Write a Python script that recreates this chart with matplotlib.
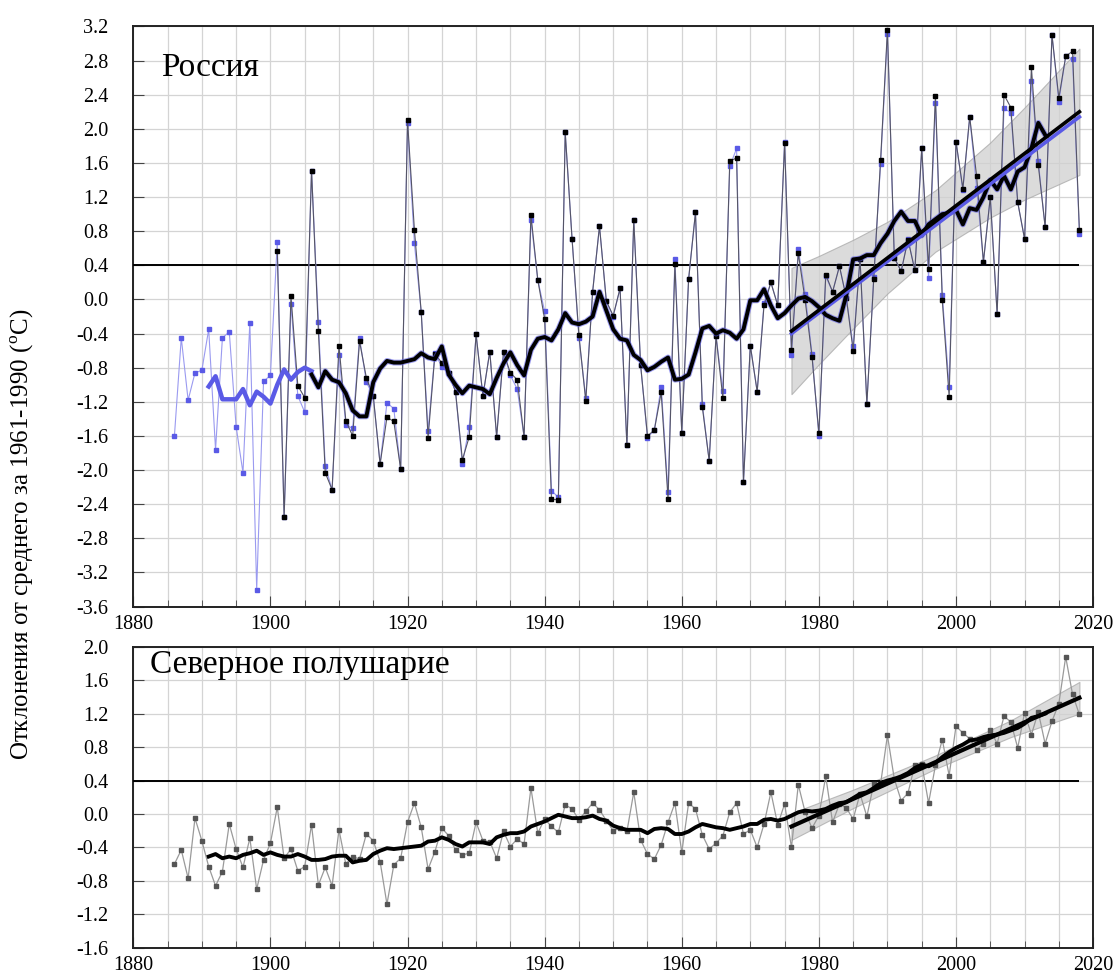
import numpy as np
import matplotlib
matplotlib.use("Agg")
import matplotlib.pyplot as plt
from matplotlib.ticker import MultipleLocator, FormatStrFormatter

plt.rcParams["font.family"] = ["Liberation Serif", "DejaVu Serif"]
plt.rcParams["mathtext.fontset"] = "custom"
plt.rcParams["mathtext.rm"] = "Liberation Serif"
plt.rcParams["axes.unicode_minus"] = False

# ---- Russia: annual anomalies ----
rus_years_blue = np.arange(1886, 2019)
rus_blue = [
    -1.60, -0.45, -1.18, -0.86, -0.83, -0.35, -1.76, -0.45, -0.38, -1.49,
    -2.03, -0.27, -3.40, -0.96, -0.89,
    0.67, -2.55, -0.05, -1.13, -1.32, 1.51, -0.26, -1.95, -2.23, -0.65,
    -1.47, -1.51, -0.45, -0.97, -1.13, -1.93, -1.21, -1.28, -1.99, 2.07,
    0.66, -0.15, -1.54, -0.63, -0.79, -0.86, -1.08, -1.93, -1.49, -0.41,
    -1.13, -0.61, -1.61, -0.62, -0.89, -1.05, -1.61, 0.93, 0.23, -0.14,
    -2.24, -2.32, 1.96, 0.71, -0.45, -1.15, 0.09, 0.86, -0.02, -0.20,
    0.13, -1.71, 0.93, -0.77, -1.62, -1.53, -1.02, -2.26, 0.48, -1.56,
    0.24, 1.02, -1.23, -1.89, -0.43, -1.07, 1.56, 1.77, -2.14, -0.54,
    -1.08, -0.04, 0.20, -0.07, 1.85, -0.65, 0.59, 0.07, -0.64, -1.60,
    0.27, 0.09, 0.39, 0.02, -0.55, 0.48, -1.22, 0.26, 1.59, 3.11,
    0.49, 0.33, 0.71, 0.34, 1.77, 0.25, 2.30, 0.05, -1.02, 1.85,
    1.28, 2.14, 1.31, 0.44, 1.20, -0.17, 2.24, 2.19, 1.14, 0.71,
    2.56, 1.62, 0.85, 3.10, 2.32, 2.85, 2.82, 0.77,
]
rus_years_black = np.arange(1901, 2019)
rus_black = [
    0.57, -2.55, 0.04, -1.01, -1.15, 1.51, -0.37, -2.03, -2.23, -0.54,
    -1.42, -1.60, -0.49, -0.92, -1.13, -1.93, -1.38, -1.43, -1.99, 2.10,
    0.82, -0.15, -1.62, -0.64, -0.74, -0.86, -1.08, -1.88, -1.61, -0.41,
    -1.13, -0.61, -1.61, -0.62, -0.86, -0.94, -1.61, 0.99, 0.23, -0.23,
    -2.34, -2.35, 1.96, 0.71, -0.42, -1.19, 0.09, 0.86, -0.02, -0.19,
    0.13, -1.71, 0.93, -0.77, -1.60, -1.53, -1.09, -2.34, 0.41, -1.56,
    0.24, 1.02, -1.26, -1.89, -0.43, -1.16, 1.62, 1.66, -2.14, -0.54,
    -1.08, -0.07, 0.20, -0.07, 1.83, -0.59, 0.54, -0.01, -0.67, -1.57,
    0.29, 0.09, 0.39, 0.02, -0.60, 0.48, -1.22, 0.24, 1.63, 3.16,
    0.49, 0.33, 0.70, 0.34, 1.77, 0.36, 2.39, -0.01, -1.14, 1.85,
    1.30, 2.14, 1.45, 0.44, 1.20, -0.17, 2.40, 2.25, 1.14, 0.71,
    2.72, 1.58, 0.85, 3.10, 2.36, 2.85, 2.91, 0.81,
]

# smoothed curves
rus_ma_blue_years = np.arange(1891, 1907)
rus_ma_blue = [-1.02, -0.90, -1.17, -1.17, -1.17, -1.05, -1.24, -1.08,
               -1.14, -1.22, -1.00, -0.82, -0.94, -0.85, -0.80, -0.84]
rus_ma_years = np.arange(1906, 2014)
rus_ma = [
    -0.88, -1.03, -0.84, -0.94, -0.97, -1.10, -1.30, -1.37, -1.37, -0.97,
    -0.81, -0.72, -0.74, -0.74, -0.72, -0.70, -0.63, -0.68, -0.70, -0.55,
    -0.88, -1.00, -1.10, -1.01, -1.03, -1.05, -1.11, -0.92, -0.75, -0.62,
    -0.77, -0.89, -0.59, -0.46, -0.44, -0.48, -0.35, -0.16, -0.27, -0.29,
    -0.26, -0.20, 0.09, -0.13, -0.35, -0.46, -0.48, -0.65, -0.71, -0.83,
    -0.79, -0.73, -0.68, -0.94, -0.93, -0.88, -0.62, -0.34, -0.31, -0.40,
    -0.36, -0.39, -0.46, -0.35, -0.01, -0.01, 0.12, -0.07, -0.22, -0.16,
    -0.07, 0.01, 0.03, -0.02, -0.09, -0.18, -0.22, -0.25, 0.05, 0.47,
    0.48, 0.52, 0.52, 0.66, 0.77, 0.92, 1.03, 0.92, 0.92, 0.75,
    0.88, 0.94, 1.00, 1.01, 1.05, 0.88, 1.07, 1.05, 1.20, 1.40,
    1.29, 1.45, 1.29, 1.50, 1.55, 1.77, 2.07, 1.93,
]
rus_trend_years = [1976, 2018]
rus_trend_black = [-0.37, 2.20]
rus_trend_blue = [-0.40, 2.14]
rus_band_years = [1976, 1980, 1985, 1990, 1997, 2005, 2010, 2018]
rus_band_low = [-1.11, -0.76, -0.34, 0.07, 0.56, 0.96, 1.17, 1.46]
rus_band_high = [0.37, 0.51, 0.70, 0.91, 1.28, 1.84, 2.25, 2.94]

# ---- Northern Hemisphere ----
nh_years = np.arange(1886, 2019)
nh = [
    -0.60, -0.43, -0.77, -0.05, -0.32, -0.63, -0.86, -0.69, -0.12, -0.42,
    -0.64, -0.29, -0.90, -0.55, -0.35, 0.08, -0.53, -0.42, -0.68, -0.63,
    -0.13, -0.85, -0.64, -0.86, -0.19, -0.60, -0.51, -0.54, -0.24, -0.32,
    -0.57, -1.08, -0.61, -0.53, -0.10, 0.13, -0.16, -0.66, -0.45, -0.17,
    -0.26, -0.43, -0.49, -0.47, -0.10, -0.32, -0.33, -0.53, -0.21, -0.39,
    -0.30, -0.36, 0.31, -0.23, -0.06, -0.15, -0.22, 0.11, 0.06, -0.07,
    0.03, 0.13, 0.05, -0.08, -0.20, -0.17, -0.21, 0.26, -0.31, -0.48,
    -0.54, -0.37, -0.10, 0.13, -0.46, 0.13, 0.06, -0.25, -0.42, -0.35,
    -0.26, 0.02, 0.13, -0.24, -0.19, -0.40, -0.12, 0.26, -0.13, 0.12,
    -0.40, 0.35, 0.02, -0.17, -0.02, 0.45, -0.10, 0.12, 0.07, -0.06,
    0.24, -0.03, 0.36, 0.36, 0.94, 0.42, 0.16, 0.25, 0.59, 0.60,
    0.13, 0.58, 0.89, 0.46, 1.05, 0.97, 0.90, 0.77, 0.84, 1.01,
    0.84, 1.17, 1.10, 0.79, 1.21, 0.95, 1.22, 0.84, 1.11, 1.32,
    1.88, 1.43, 1.19,
]
nh_ma_years = np.arange(1891, 2014)
nh_ma = [
    -0.51, -0.48, -0.53, -0.51, -0.53, -0.49, -0.47, -0.44, -0.49, -0.46,
    -0.49, -0.51, -0.51, -0.48, -0.51, -0.55, -0.55, -0.54, -0.51, -0.50,
    -0.50, -0.58, -0.56, -0.55, -0.48, -0.44, -0.41, -0.42, -0.41, -0.40,
    -0.39, -0.38, -0.33, -0.32, -0.28, -0.31, -0.36, -0.39, -0.34, -0.34,
    -0.34, -0.36, -0.28, -0.25, -0.23, -0.23, -0.21, -0.15, -0.12, -0.09,
    -0.05, -0.01, -0.03, -0.05, -0.05, -0.04, -0.02, -0.06, -0.08, -0.14,
    -0.17, -0.19, -0.19, -0.19, -0.23, -0.18, -0.17, -0.18, -0.24, -0.24,
    -0.21, -0.16, -0.12, -0.14, -0.16, -0.17, -0.19, -0.17, -0.15, -0.12,
    -0.12, -0.07, -0.06, -0.08, -0.06, -0.02, 0.02, 0.04, 0.03, 0.04,
    0.06, 0.10, 0.13, 0.14, 0.19, 0.24, 0.26, 0.31, 0.37, 0.40,
    0.42, 0.45, 0.49, 0.55, 0.59, 0.57, 0.61, 0.68, 0.74, 0.79,
    0.83, 0.88, 0.89, 0.92, 0.94, 0.95, 0.97, 1.00, 1.03, 1.08,
    1.15, 1.17, 1.20,
]
nh_trend_years = [1976, 2018]
nh_trend = [-0.15, 1.39]
nh_band_years = [1976, 1985, 1997, 2008, 2018]
nh_band_low = [-0.31, 0.07, 0.54, 0.92, 1.20]
nh_band_high = [0.01, 0.29, 0.70, 1.12, 1.58]

blue = "#5a5ae6"


def style_axis(ax, ymin, ymax):
    ax.set_xlim(1880, 2020)
    ax.set_ylim(ymin, ymax)
    ax.xaxis.set_major_locator(MultipleLocator(20))
    ax.xaxis.set_minor_locator(MultipleLocator(5))
    ax.yaxis.set_major_locator(MultipleLocator(0.4))
    ax.yaxis.set_major_formatter(FormatStrFormatter("%.1f"))
    ax.grid(which="both", color="#d4d4d4", lw=0.9)
    ax.set_axisbelow(True)
    ax.tick_params(which="both", direction="in", labelsize=14.5, color="#444444")
    ax.tick_params(which="major", length=8)
    ax.tick_params(which="minor", length=5)
    ax.tick_params(axis="x", pad=6)
    ax.tick_params(axis="y", pad=18)
    for s in ax.spines.values():
        s.set_linewidth(1.4)
        s.set_color("#222222")


fig = plt.figure(figsize=(11.2, 9.8), dpi=100)
ax1 = fig.add_axes([0.119, 0.381, 0.857, 0.592])
ax2 = fig.add_axes([0.119, 0.033, 0.857, 0.307])

# top panel
style_axis(ax1, -3.6, 3.2)
ax1.fill_between(rus_band_years, rus_band_low, rus_band_high,
                 color="#d0d0d0", alpha=0.75, edgecolor="#a8a8a8", lw=0.8, zorder=2)
ax1.hlines(0.4, 1880, 2018, color="black", lw=1.4, zorder=3)
ax1.plot(rus_years_blue, rus_blue, color="#9a9af0", lw=0.8, marker="s", ms=3.2,
         mfc=blue, mec=blue, zorder=4)
ax1.plot(rus_years_black, rus_black, color="#555566", lw=0.8, marker="s", ms=3.2,
         mfc="black", mec="black", zorder=5)
ax1.plot(rus_ma_blue_years, rus_ma_blue, color=blue, lw=3.2, zorder=6)
ax1.plot(rus_ma_years, rus_ma, color=blue, lw=4.2, alpha=0.6, zorder=6)
ax1.plot(rus_ma_years, rus_ma, color="black", lw=2.8, zorder=7)
ax1.plot(rus_trend_years, rus_trend_blue, color=blue, lw=2.6, zorder=7)
ax1.plot(rus_trend_years, rus_trend_black, color="black", lw=2.6, zorder=8)
ax1.text(1884, 2.72, "Россия", fontsize=24, va="center", ha="left")

# bottom panel
style_axis(ax2, -1.6, 2.0)
ax2.fill_between(nh_band_years, nh_band_low, nh_band_high,
                 color="#d0d0d0", alpha=0.75, edgecolor="#a8a8a8", lw=0.8, zorder=2)
ax2.hlines(0.4, 1880, 2018, color="black", lw=1.4, zorder=3)
ax2.plot(nh_years, nh, color="#9a9a9a", lw=0.9, marker="s", ms=3.2,
         mfc="#555555", mec="#555555", zorder=4)
ax2.plot(nh_ma_years, nh_ma, color="black", lw=2.8, zorder=6)
ax2.plot(nh_trend_years, nh_trend, color="black", lw=3.0, zorder=7)
ax2.text(1882.5, 1.78, "Северное полушарие", fontsize=24, va="center", ha="left")

fig.text(0.02, 0.455, r"Отклонения от среднего за 1961-1990 ($^{\mathrm{o}}$C)",
         rotation=90, va="center", ha="center", fontsize=18)

fig.savefig("out.png", dpi=100)
